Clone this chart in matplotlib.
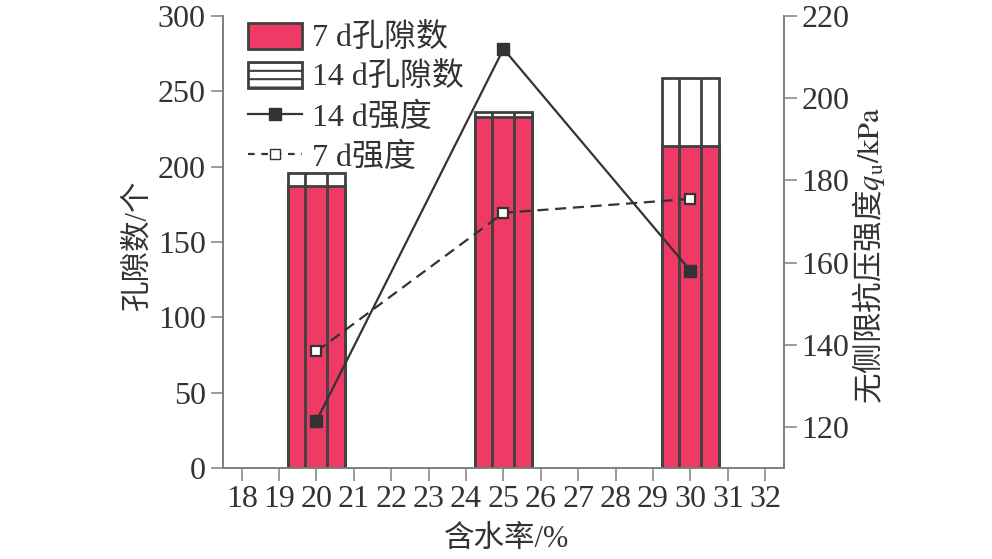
import numpy as np
import matplotlib.pyplot as plt
from matplotlib.patches import Patch
from matplotlib.lines import Line2D

# data
water = [20, 25, 30]
pores_7d = [187, 233, 214]
pores_14d = [196, 236, 259]
strength_14d = [121.5, 212.0, 158.0]
strength_7d = [138.4, 172.1, 175.5]
xticks = list(range(18, 33))

plt.rcParams['font.family'] = ['Liberation Serif', 'Noto Sans CJK SC']
plt.rcParams['mathtext.fontset'] = 'stix'
plt.rcParams['hatch.linewidth'] = 1.5
plt.rcParams['hatch.color'] = '#404040'

spine_c = '#808080'
ink = '#333333'
red = '#ee3a64'
fs = 23

fig = plt.figure(figsize=(9.92, 5.59), dpi=100)
ax = fig.add_axes([0.2248, 0.1628, 0.5655, 0.8085])
ax2 = ax.twinx()

# bars: 14 d behind, 7 d in front
ax.bar(water, pores_14d, width=1.5, color='white', edgecolor='#404040', linewidth=2, zorder=2)
ax.bar(water, pores_7d, width=1.5, color=red, edgecolor='#404040', linewidth=2, zorder=3)
xs = np.array(water, dtype=float)
ax.vlines(np.concatenate([xs - 0.3, xs + 0.27]), 0, pores_14d * 2, colors='#404040', linewidth=2, zorder=4)

ax2.plot(water, strength_14d, color=ink, lw=1.6, marker='s', ms=8,
         mfc=ink, mec=ink)
ax2.plot(water, strength_7d, color=ink, lw=1.6, ls=(0, (5, 3)), marker='s', ms=7.5,
         mfc='white', mec=ink, mew=1.6)

ax.set_xlim(17.5, 32.5)
ax.set_ylim(0, 300)
ax2.set_ylim(110, 220)
ax.set_xticks(xticks)
ax.set_yticks(np.arange(0, 301, 50))
ax2.set_yticks(np.arange(120, 221, 20))

for a in (ax, ax2):
    for s in a.spines.values():
        s.set_color(spine_c)
        s.set_linewidth(1.3)
    a.spines['top'].set_visible(False)
    a.tick_params(direction='out', length=9, width=1.1, color=spine_c,
                  labelsize=fs, labelcolor=ink)

ax.set_xlabel('含水率/%', fontsize=22, color=ink)
ax.set_ylabel('孔隙数/个', fontsize=22, color=ink)
ax2.set_ylabel('无侧限抗压强度$q_\\mathrm{u}/\\mathrm{kPa}$', fontsize=22, color=ink,
               family='Noto Sans CJK SC')
ax.xaxis.set_label_coords(0.506, -0.125)
ax.yaxis.set_label_coords(-0.125, 0.493)
ax2.yaxis.set_label_coords(1.118, 0.47)

handles = [
    Patch(facecolor=red, edgecolor='#404040', linewidth=2),
    Patch(facecolor='white', edgecolor='#404040', linewidth=2, hatch='--'),
    Line2D([], [], color=ink, lw=1.6, marker='s', ms=8, mfc=ink, mec=ink),
    Line2D([], [], color=ink, lw=1.6, ls=(0, (3, 3)), marker='s', ms=7.5, mfc='white', mec=ink),
]
labels = ['7 d孔隙数', '14 d孔隙数', '14 d强度', '7 d强度']
leg = ax2.legend(handles, labels, loc='upper left', bbox_to_anchor=(0.044, 0.985),
                 frameon=False, fontsize=fs, borderpad=0, borderaxespad=0,
                 handlelength=1.7, handleheight=0.87, handletextpad=0.3, labelspacing=0.27)
for t in leg.get_texts():
    t.set_color(ink)

fig.savefig('out.png', dpi=100)
